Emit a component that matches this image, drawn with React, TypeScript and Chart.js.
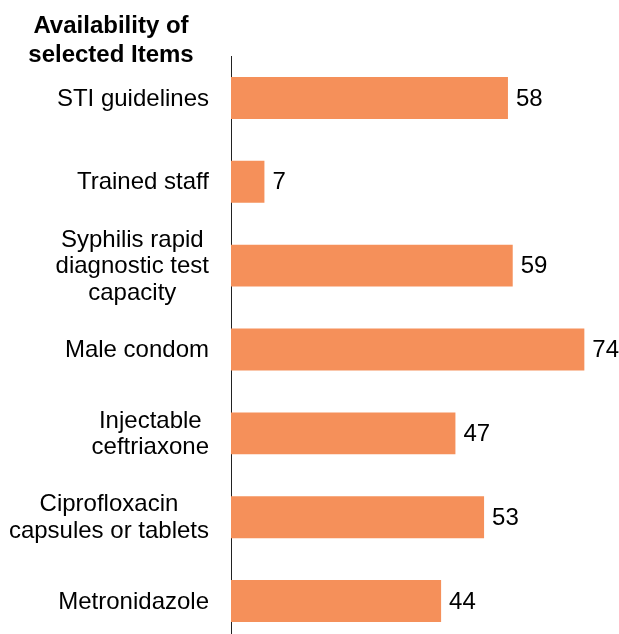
import React, { useEffect, useRef } from "react";
import { Chart, registerables } from "chart.js";

Chart.register(...registerables);

const chartTitle = ["Availability of", "selected Items"];
const categories: string[][] = [
  ["STI guidelines"],
  ["Trained staff"],
  ["Syphilis rapid", "diagnostic test", "capacity"],
  ["Male condom"],
  ["Injectable", "ceftriaxone"],
  ["Ciprofloxacin", "capsules or tablets"],
  ["Metronidazole"],
];
const values = [58, 7, 59, 74, 47, 53, 44];

const FONT = '"Liberation Sans", Arial, sans-serif';
const BAR_COLOR = "#F5905A";

const labelPlugin = {
  id: "customLabels",
  afterDraw(chart: any) {
    const ctx = chart.ctx;
    const yScale = chart.scales.y;
    ctx.save();
    // title
    ctx.font = `bold 24px ${FONT}`;
    ctx.fillStyle = "#000";
    ctx.textAlign = "center";
    ctx.textBaseline = "alphabetic";
    chartTitle.forEach((line, i) => {
      ctx.fillText(line, 111, 33 + i * 29);
    });
    // category labels: block right-aligned, lines centered within block
    ctx.font = `24px ${FONT}`;
    ctx.textBaseline = "middle";
    const lineH = 26.7;
    const rightEdge = yScale.right - 22;
    categories.forEach((lines, i) => {
      const y = yScale.getPixelForTick(i);
      const w = Math.max(...lines.map((l) => ctx.measureText(l).width));
      const cx = rightEdge - w / 2;
      const startY = y - ((lines.length - 1) * lineH) / 2;
      lines.forEach((l, j) => {
        ctx.fillText(l, cx, startY + j * lineH + 1);
      });
    });
    // value labels
    ctx.textAlign = "left";
    const meta = chart.getDatasetMeta(0);
    meta.data.forEach((bar: any, i: number) => {
      ctx.fillText(String(values[i]), bar.x + 8, bar.y + 1);
    });
    ctx.restore();
  },
};

export default function App() {
  const ref = useRef<HTMLCanvasElement | null>(null);
  useEffect(() => {
    if (!ref.current) return;
    const chart = new Chart(ref.current, {
      type: "bar",
      data: {
        labels: categories,
        datasets: [
          {
            data: values,
            backgroundColor: BAR_COLOR,
            borderWidth: 0,
            barPercentage: 0.5,
            categoryPercentage: 1,
          },
        ],
      },
      options: {
        indexAxis: "y",
        animation: false,
        responsive: false,
        devicePixelRatio: 1,
        layout: { padding: { top: 56, bottom: 17, right: 6, left: 0 } },
        plugins: {
          legend: { display: false },
          title: { display: false },
          tooltip: { enabled: false },
        },
        scales: {
          x: { display: false, min: 0, max: 80 },
          y: {
            display: true,
            grid: { display: true, color: "transparent", drawTicks: false },
            border: { display: true, color: "#222", width: 1 },
            ticks: { display: false },
            afterFit: (scale: any) => {
              scale.width = 231;
            },
          },
        },
      },
      plugins: [labelPlugin],
    });
    return () => chart.destroy();
  }, []);
  return (
    <div
      style={{
        position: "fixed",
        top: 0,
        left: 0,
        width: 619,
        height: 634,
        overflow: "hidden",
        background: "#fff",
      }}
    >
      <canvas ref={ref} width={619} height={660} style={{ display: "block" }} />
    </div>
  );
}
